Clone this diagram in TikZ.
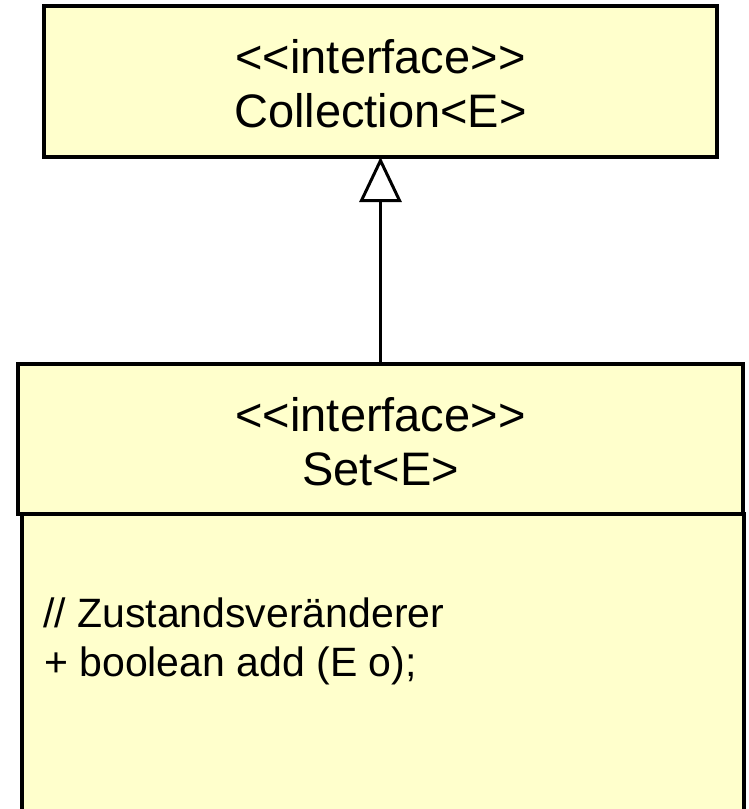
\documentclass[tikz,border=0pt]{standalone}
\usepackage{fontspec}
\newfontfamily\umlfont{Liberation Sans}
\usetikzlibrary{arrows.meta}
\definecolor{umlfill}{HTML}{FFFFCC}
\begin{document}
\begin{tikzpicture}[x=1pt,y=-1pt,
  box/.style={draw=black, fill=umlfill, line width=3.8pt, rectangle, inner sep=0pt, outer sep=0pt},
  title/.style={anchor=base, inner sep=0pt, font=\umlfont\fontsize{47}{55}\selectfont},
  member/.style={anchor=base west, inner sep=0pt, font=\umlfont\fontsize{41}{49}\selectfont}]
\useasboundingbox (0,0) rectangle (748,809);
\clip (0,0) rectangle (748,809);
% Collection box
\node[box, minimum width=673pt, minimum height=151pt] (coll) at (380.5,81.5) {};
\node[title] (collst) at (380.5,73) {<<interface>>};
\node[title] (collname) at (380.5,127) {Collection<E>};
% Set body
\node[box, anchor=north west, minimum width=722pt, minimum height=320pt] (setbody) at (21.7,514) {};
% Set header
\node[box, minimum width=725pt, minimum height=150pt] (sethead) at (380.5,439) {};
\node[title] (setst) at (380.5,431) {<<interface>>};
\node[title] (setname) at (380.5,485) {Set<E>};
\node[member] (m1) at (43,627) {// Zustandsveränderer};
\node[member] (m2) at (44,676) {+ boolean add (E o);};
% generalization
\draw[line width=3pt, -{Triangle[open, length=45pt, width=42pt]}] (sethead.north) -- (coll.south);
\end{tikzpicture}
\end{document}
